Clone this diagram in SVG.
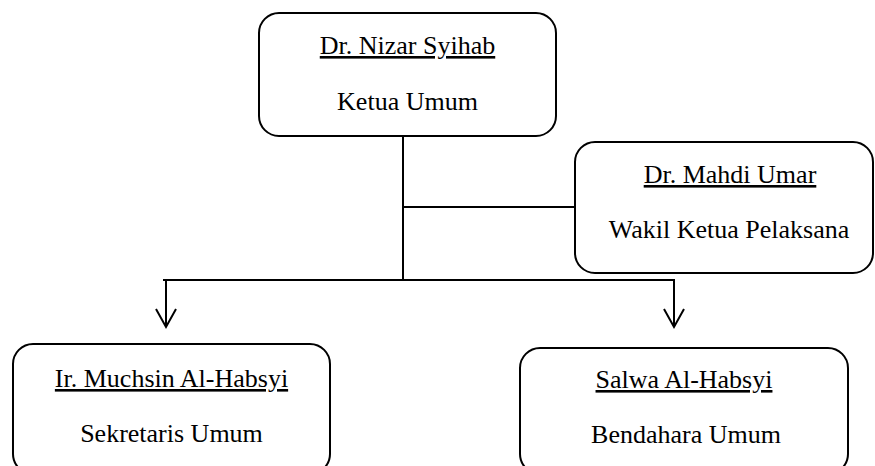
<svg xmlns="http://www.w3.org/2000/svg" width="875" height="466" viewBox="0 0 875 466">
<defs>
<style type="text/css">
.box{fill:#fff;stroke:#000;stroke-width:2}
.ln{fill:none;stroke:#000;stroke-width:2}
</style>
</defs>
<rect width="875" height="466" fill="#fff"/>
<g id="connectors">
<line class="ln" x1="403" y1="136" x2="403" y2="280"/>
<line class="ln" x1="403" y1="207" x2="575" y2="207"/>
<line class="ln" x1="163" y1="280" x2="675" y2="280"/>
<line class="ln" x1="166" y1="280" x2="166" y2="326"/>
<polyline class="ln" points="156,309 166,327 176,309"/>
<line class="ln" x1="674" y1="280" x2="674" y2="326"/>
<polyline class="ln" points="664,309 674,327 684,309"/>
</g>
<g id="ketua">
<rect class="box" x="259" y="13" width="297" height="123" rx="20"/>
<text x="407.5" y="54" font-family="Liberation Serif" font-size="26" text-anchor="middle" text-decoration="underline">Dr. Nizar Syihab</text>
<text x="407.5" y="110" font-family="Liberation Serif" font-size="26" text-anchor="middle">Ketua Umum</text>
</g>
<g id="wakil">
<rect class="box" x="575" y="142" width="298" height="131" rx="20"/>
<text x="730" y="183" font-family="Liberation Serif" font-size="26" text-anchor="middle" text-decoration="underline">Dr. Mahdi Umar</text>
<text x="729" y="238" font-family="Liberation Serif" font-size="26" text-anchor="middle">Wakil Ketua Pelaksana</text>
</g>
<g id="sekretaris">
<rect class="box" x="13" y="344" width="317" height="130" rx="20"/>
<text x="171.5" y="387" font-family="Liberation Serif" font-size="26" text-anchor="middle" text-decoration="underline">Ir. Muchsin Al-Habsyi</text>
<text x="171.5" y="442" font-family="Liberation Serif" font-size="26" text-anchor="middle">Sekretaris Umum</text>
</g>
<g id="bendahara">
<rect class="box" x="520" y="348" width="328" height="126" rx="20"/>
<text x="684" y="388" font-family="Liberation Serif" font-size="26" text-anchor="middle" text-decoration="underline">Salwa Al-Habsyi</text>
<text x="686" y="443" font-family="Liberation Serif" font-size="26" text-anchor="middle">Bendahara Umum</text>
</g>
</svg>
